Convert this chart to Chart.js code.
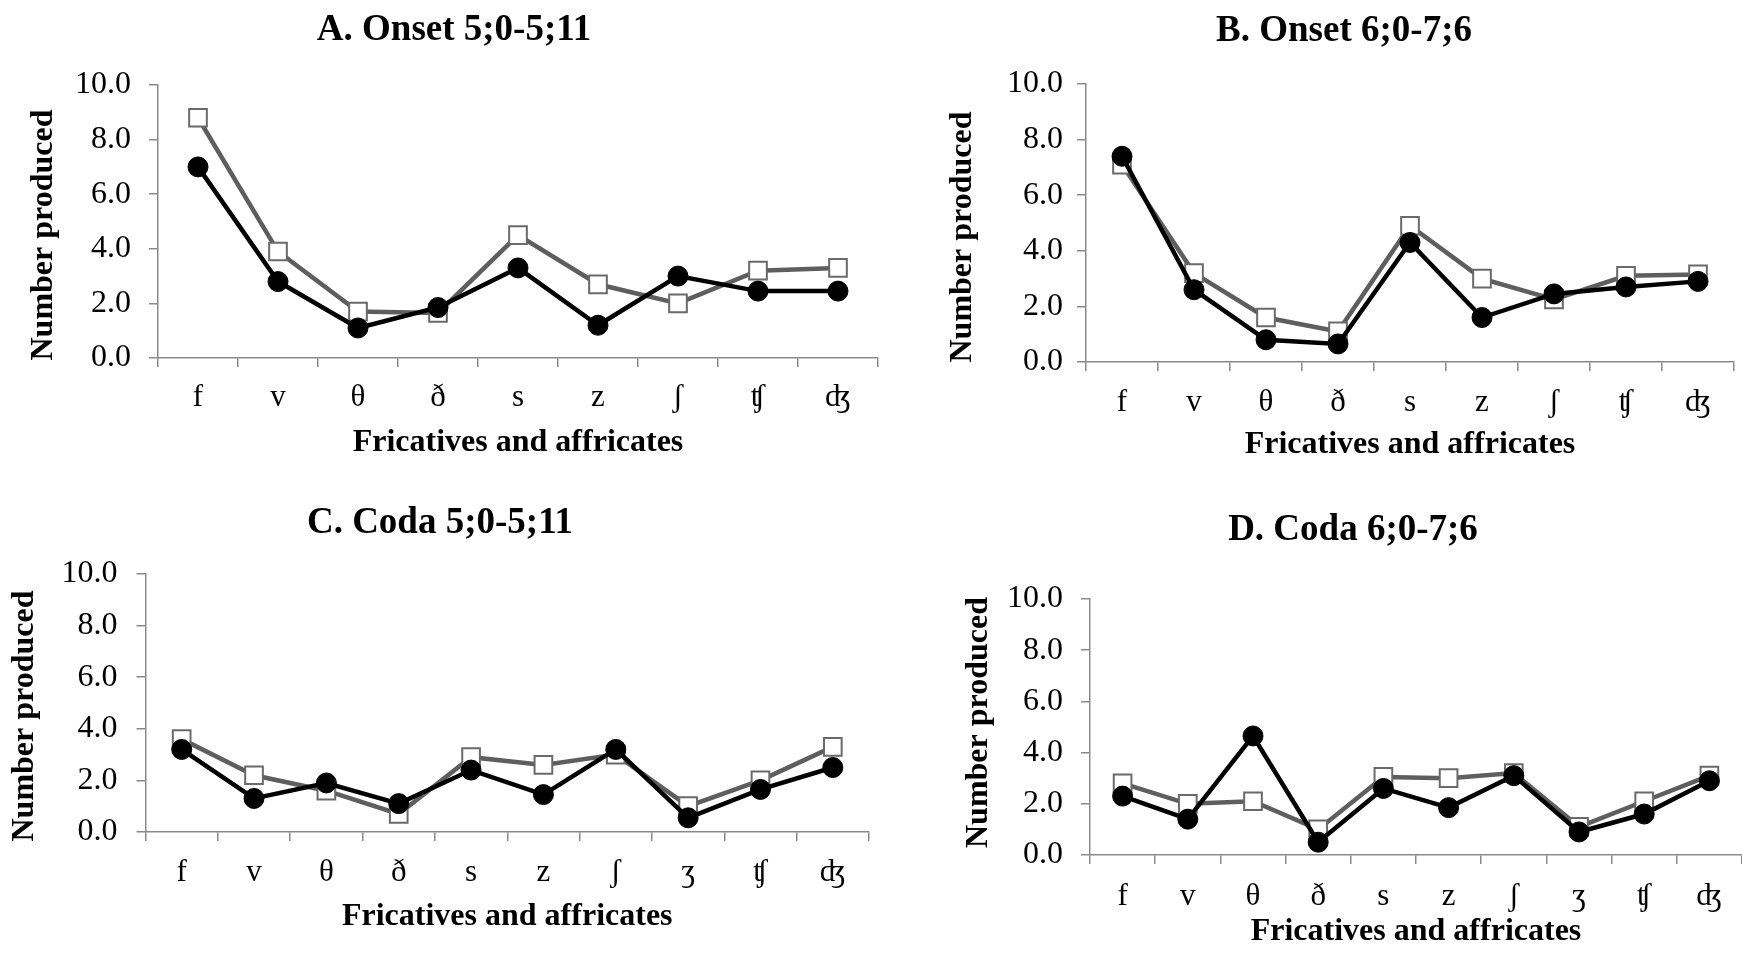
<!DOCTYPE html>
<html>
<head>
<meta charset="utf-8">
<script src="https://cdn.jsdelivr.net/npm/chart.js@4.4.1/dist/chart.umd.min.js"></script>
<style>
  html, body { margin: 0; padding: 0; background: #fff; overflow: hidden; }
  #wrap { position: relative; width: 1742px; height: 962px; }
  canvas { position: absolute; }
</style>
</head>
<body>
<div id="wrap">
  <canvas id="chartA" width="885" height="480" style="left:0px;top:0px;"></canvas>
  <canvas id="chartB" width="812" height="480" style="left:930px;top:0px;"></canvas>
  <canvas id="chartC" width="878" height="482" style="left:0px;top:480px;"></canvas>
  <canvas id="chartD" width="810" height="482" style="left:940px;top:480px;"></canvas>
</div>
<script>
// categories
const onsetSounds = ['f', 'v', 'θ', 'ð', 's', 'z', 'ʃ', 'ʧ', 'ʤ'];
const codaSounds = ['f', 'v', 'θ', 'ð', 's', 'z', 'ʃ', 'ʒ', 'ʧ', 'ʤ'];

// A. Onset 5;0-5;11
const onsetYoungGray = [8.8, 3.9, 1.7, 1.65, 4.5, 2.7, 2.0, 3.2, 3.3];
const onsetYoungBlack = [7.0, 2.8, 1.1, 1.85, 3.3, 1.2, 3.0, 2.45, 2.45];
// B. Onset 6;0-7;6
const onsetOlderGray = [7.1, 3.2, 1.6, 1.1, 4.9, 3.0, 2.25, 3.1, 3.15];
const onsetOlderBlack = [7.4, 2.6, 0.8, 0.65, 4.3, 1.6, 2.45, 2.7, 2.9];
// C. Coda 5;0-5;11
const codaYoungGray = [3.6, 2.2, 1.6, 0.7, 2.9, 2.6, 3.0, 1.0, 2.0, 3.3];
const codaYoungBlack = [3.2, 1.3, 1.9, 1.1, 2.4, 1.45, 3.2, 0.55, 1.65, 2.5];
// D. Coda 6;0-7;6
const codaOlderGray = [2.8, 2.0, 2.1, 1.0, 3.05, 3.0, 3.2, 1.1, 2.1, 3.1];
const codaOlderBlack = [2.3, 1.4, 4.65, 0.5, 2.6, 1.85, 3.1, 0.9, 1.6, 2.9];

const yMin = 0, yMax = 10, yStep = 2;

const FONT = "'Liberation Serif', 'Times New Roman', 'DejaVu Serif', serif";
const AXIS = '#8a8a8a';

// panel title + rotated y title, placed by hand (Excel puts them off-centre)
const panelText = {
  id: 'panelText',
  afterDraw(chart, args, opts) {
    const c = chart.ctx;
    c.save();
    c.fillStyle = '#000';
    c.textAlign = 'center';
    c.textBaseline = 'middle';
    c.font = 'bold 37px ' + FONT;
    c.fillText(opts.title, opts.titleX, opts.titleY);
    c.translate(opts.yTitleX, opts.yTitleY);
    c.rotate(-Math.PI / 2);
    c.font = 'bold 32px ' + FONT;
    c.fillText('Number produced', 0, 0);
    c.restore();
  }
};

// lay: canvas-relative layout numbers for one panel
function makePanel(id, title, labels, gray, black, lay) {
  const ctx = document.getElementById(id);
  return new Chart(ctx, {
    type: 'line',
    plugins: [panelText],
    data: {
      labels: labels,
      datasets: [
        {
          label: 'Black',
          data: black,
          borderColor: '#000',
          borderWidth: 4.5,
          pointStyle: 'circle',
          pointRadius: 10,
          pointBackgroundColor: '#000',
          pointBorderColor: '#000',
          pointBorderWidth: 1,
          tension: 0,
          order: 0
        },
        {
          label: 'Gray',
          data: gray,
          borderColor: '#5e5e5e',
          borderWidth: 4.5,
          pointStyle: 'rect',
          pointRadius: 12.5,
          pointBackgroundColor: '#fff',
          pointBorderColor: '#6a6a6a',
          pointBorderWidth: 2,
          tension: 0,
          order: 1
        }
      ]
    },
    options: {
      responsive: false,
      animation: false,
      devicePixelRatio: 1,
      layout: {
        autoPadding: false,
        padding: { left: 0, top: lay.top, right: lay.padRight, bottom: 0 }
      },
      plugins: {
        legend: { display: false },
        tooltip: { enabled: false },
        title: { display: false },
        panelText: {
          title: title,
          titleX: lay.titleX, titleY: lay.titleY,
          yTitleX: lay.yTitleX, yTitleY: lay.yTitleY
        }
      },
      scales: {
        x: {
          offset: true,
          grid: {
            offset: true,
            drawOnChartArea: false,
            drawTicks: true,
            tickLength: 9,
            color: AXIS,
            lineWidth: 1.5
          },
          border: { color: AXIS, width: 1.5 },
          ticks: {
            color: '#000',
            padding: lay.xPad,
            maxRotation: 0,
            autoSkip: false,
            font: { family: FONT, size: 31 }
          },
          title: {
            display: true,
            text: 'Fricatives and affricates',
            color: '#000',
            font: { family: FONT, size: 32, weight: 'bold', lineHeight: 1.2 },
            padding: { top: 0, bottom: lay.xTitleBottom }
          },
          afterFit: (s) => { s.height = lay.xHeight; }
        },
        y: {
          min: yMin,
          max: yMax,
          grid: {
            drawOnChartArea: false,
            drawTicks: true,
            tickLength: 9,
            color: AXIS,
            lineWidth: 1.5
          },
          border: { color: AXIS, width: 1.5 },
          ticks: {
            stepSize: yStep,
            color: '#000',
            padding: lay.yPad,
            font: { family: FONT, size: 32 },
            callback: (v) => Number(v).toFixed(1)
          },
          afterFit: (s) => { s.width = lay.yWidth; }
        }
      }
    }
  });
}

makePanel('chartA', 'A. Onset 5;0-5;11', onsetSounds, onsetYoungGray, onsetYoungBlack, {
  top: 85, padRight: 7, xPad: 12.4, xTitleBottom: 17.6, xHeight: 122, yPad: 18, yWidth: 158,
  titleX: 454, titleY: 30.5, yTitleX: 44, yTitleY: 235
});
makePanel('chartB', 'B. Onset 6;0-7;6', onsetSounds, onsetOlderGray, onsetOlderBlack, {
  top: 84, padRight: 8, xPad: 13.4, xTitleBottom: 15.6, xHeight: 118, yPad: 14, yWidth: 156,
  titleX: 414, titleY: 31, yTitleX: 33, yTitleY: 237
});
makePanel('chartC', 'C. Coda 5;0-5;11', codaSounds, codaYoungGray, codaYoungBlack, {
  top: 94, padRight: 9, xPad: 13.4, xTitleBottom: 25.6, xHeight: 130, yPad: 19, yWidth: 145.5,
  titleX: 440, titleY: 43, yTitleX: 25, yTitleY: 236
});
makePanel('chartD', 'D. Coda 6;0-7;6', codaSounds, codaOlderGray, codaOlderBlack, {
  top: 119, padRight: 8, xPad: 14.4, xTitleBottom: 10.6, xHeight: 107, yPad: 18, yWidth: 150,
  titleX: 413, titleY: 50, yTitleX: 39, yTitleY: 242.5
});
</script>
</body>
</html>
